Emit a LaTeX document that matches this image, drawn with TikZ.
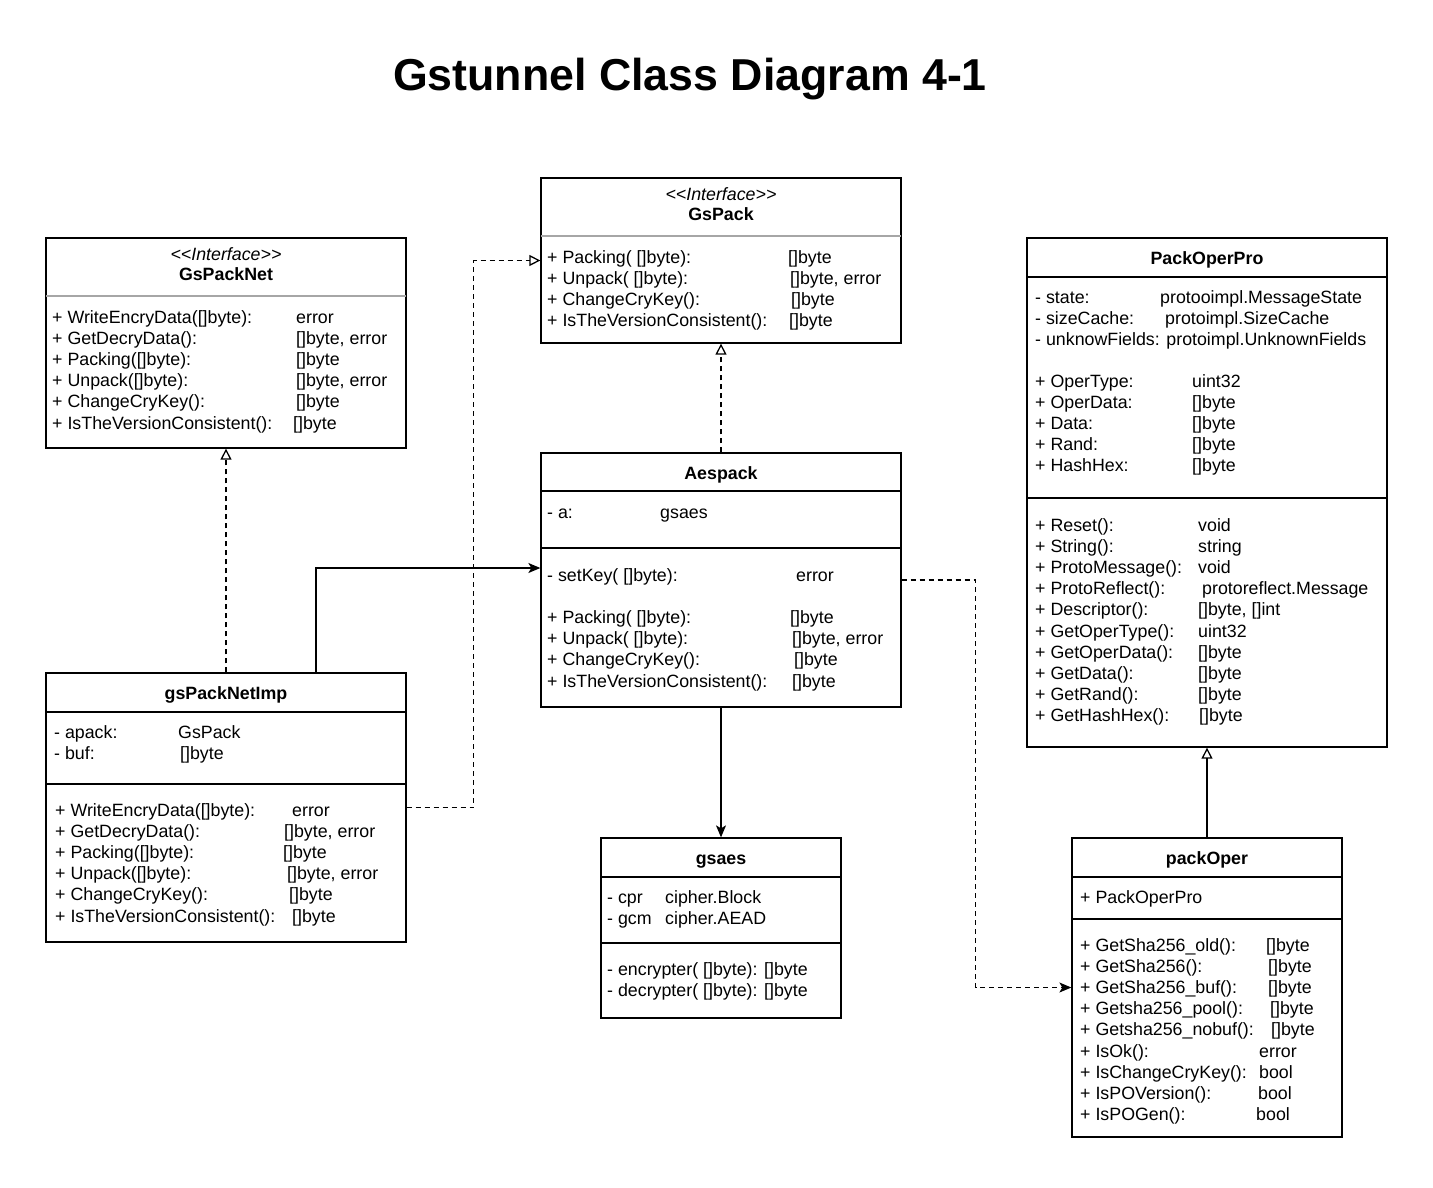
\documentclass[tikz,border=0pt]{standalone}
\usepackage{fontspec}
\setmainfont{Liberation Sans}
\usetikzlibrary{arrows.meta,positioning}

\tikzset{
  umlbox/.style={draw, line width=1.3pt, inner sep=0pt},
  cname/.style={anchor=base, inner sep=0pt, font=\fontsize{17.8}{21.2}\selectfont\bfseries},
  stereo/.style={anchor=base, inner sep=0pt, font=\fontsize{17.8}{21.2}\selectfont\itshape},
  members/.style={anchor=base west, inner sep=0pt, font=\fontsize{17.8}{21.2}\selectfont},
  sepline/.style={line width=1.3pt},
  isep/.style={line width=1.3pt, black!35},
  realize/.style={line width=1.3pt, dash pattern=on 5pt off 4pt, -{Triangle[open, length=11pt, width=11pt]}},
  inherit/.style={line width=1.3pt, -{Triangle[open, length=11pt, width=11pt]}},
  assoc/.style={line width=1.3pt, -{Stealth[length=12pt, width=10pt, inset=3pt]}},
  dep/.style={line width=1.3pt, dash pattern=on 5pt off 4pt, -{Stealth[length=12pt, width=10pt, inset=3pt]}}
}

\begin{document}
\begin{tikzpicture}[x=1pt, y=-1pt]
  \useasboundingbox (0,0) rectangle (1433,1187);
  % title
  \node[anchor=base, inner sep=0pt, font=\fontsize{44.7}{50}\selectfont\bfseries] (title) at (690,90) {Gstunnel Class Diagram 4-1};

  % GsPackNet
  \node[umlbox, minimum width=360pt, minimum height=210pt] (gspacknet) at (226,343) {};
  \node[stereo] (gspacknet-st) at (226,260) {{<}{<}Interface{>}{>}};
  \node[cname] (gspacknet-name) at (226,280) {GsPackNet};
  \draw[isep] (46,296) -- (406,296);
  \node[members] (gspacknet-ops) at (52,323) {\begin{tabular}[t]{@{}p{244pt}@{}l@{}}
    + WriteEncryData([]byte): & error \\
    + GetDecryData(): & []byte, error \\
    + Packing([]byte): & []byte \\
    + Unpack([]byte): & []byte, error \\
    + ChangeCryKey(): & []byte \\
    + IsTheVersionConsistent(): & \hspace*{-3pt}[]byte
  \end{tabular}};

  % GsPack
  \node[umlbox, minimum width=360pt, minimum height=165pt] (gspack) at (721,260.5) {};
  \node[stereo] (gspack-st) at (721,200) {{<}{<}Interface{>}{>}};
  \node[cname] (gspack-name) at (721,220) {GsPack};
  \draw[isep] (541,236) -- (901,236);
  \node[members] (gspack-ops) at (547,263) {\begin{tabular}[t]{@{}p{241pt}@{}l@{}}
    + Packing( []byte): & []byte \\
    + Unpack( []byte): & \hspace*{2pt}[]byte, error \\
    + ChangeCryKey(): & \hspace*{3pt}[]byte \\
    + IsTheVersionConsistent(): & \hspace*{1pt}[]byte
  \end{tabular}};

  % PackOperPro
  \node[umlbox, minimum width=360pt, minimum height=509pt] (packoperpro) at (1207,492.5) {};
  \node[cname] (packoperpro-name) at (1207,264) {PackOperPro};
  \draw[sepline] (1027,277) -- (1387,277);
  \node[members] (packoperpro-priv) at (1035,303) {\begin{tabular}[t]{@{}p{125pt}@{}l@{}}
    - state: & protooimpl.MessageState \\
    - sizeCache: & \hspace*{5pt}protoimpl.SizeCache \\
    \multicolumn{2}{@{}l@{}}{- unknowFields: protoimpl.UnknownFields}
  \end{tabular}};
  \node[members] (packoperpro-pub) at (1035,387) {\begin{tabular}[t]{@{}p{157pt}@{}l@{}}
    + OperType: & uint32 \\
    + OperData: & []byte \\
    + Data: & []byte \\
    + Rand: & []byte \\
    + HashHex: & []byte
  \end{tabular}};
  \draw[sepline] (1027,498) -- (1387,498);
  \node[members] (packoperpro-ops) at (1035,531) {\begin{tabular}[t]{@{}p{163pt}@{}l@{}}
    + Reset(): & void \\
    + String(): & string \\
    + ProtoMessage(): & void \\
    + ProtoReflect(): & \hspace*{4pt}protoreflect.Message \\
    + Descriptor(): & []byte, []int \\
    + GetOperType(): & uint32 \\
    + GetOperData(): & []byte \\
    + GetData(): & []byte \\
    + GetRand(): & []byte \\
    + GetHashHex(): & \hspace*{1pt}[]byte
  \end{tabular}};

  % Aespack
  \node[umlbox, minimum width=360pt, minimum height=254pt] (aespack) at (721,580) {};
  \node[cname] (aespack-name) at (721,479) {Aespack};
  \draw[sepline] (541,491) -- (901,491);
  \node[members] (aespack-attr) at (547,518) {\begin{tabular}[t]{@{}p{113pt}@{}l@{}}
    - a: & gsaes
  \end{tabular}};
  \draw[sepline] (541,548) -- (901,548);
  \node[members] (aespack-ops) at (547,581) {\begin{tabular}[t]{@{}p{243pt}@{}l@{}}
    - setKey( []byte): & \hspace*{6pt}error \\
    & \\
    + Packing( []byte): & []byte \\
    + Unpack( []byte): & \hspace*{2pt}[]byte, error \\
    + ChangeCryKey(): & \hspace*{4pt}[]byte \\
    + IsTheVersionConsistent(): & \hspace*{2pt}[]byte
  \end{tabular}};

  % gsPackNetImp
  \node[umlbox, minimum width=360pt, minimum height=269pt] (gspacknetimp) at (226,807.5) {};
  \node[cname] (gspacknetimp-name) at (226,699) {gsPackNetImp};
  \draw[sepline] (46,712) -- (406,712);
  \node[members] (gspacknetimp-attr) at (54,738) {\begin{tabular}[t]{@{}p{124pt}@{}l@{}}
    - apack: & GsPack \\
    - buf: & \hspace*{2pt}[]byte
  \end{tabular}};
  \draw[sepline] (46,784) -- (406,784);
  \node[members] (gspacknetimp-ops) at (55,816) {\begin{tabular}[t]{@{}p{229pt}@{}l@{}}
    + WriteEncryData([]byte): & \hspace*{8pt}error \\
    + GetDecryData(): & []byte, error \\
    + Packing([]byte): & \hspace*{-1pt}[]byte \\
    + Unpack([]byte): & \hspace*{3pt}[]byte, error \\
    + ChangeCryKey(): & \hspace*{5pt}[]byte \\
    + IsTheVersionConsistent(): & \hspace*{8pt}[]byte
  \end{tabular}};

  % gsaes
  \node[umlbox, minimum width=240pt, minimum height=180pt] (gsaes) at (721,928) {};
  \node[cname] (gsaes-name) at (721,864) {gsaes};
  \draw[sepline] (601,877) -- (841,877);
  \node[members] (gsaes-attr) at (607,903) {\begin{tabular}[t]{@{}p{58pt}@{}l@{}}
    - cpr & cipher.Block \\
    - gcm & cipher.AEAD
  \end{tabular}};
  \draw[sepline] (601,943) -- (841,943);
  \node[members] (gsaes-ops) at (607,975) {\begin{tabular}[t]{@{}l@{}}
    - encrypter( []byte): []byte \\
    - decrypter( []byte): []byte
  \end{tabular}};

  % packOper
  \node[umlbox, minimum width=270pt, minimum height=299pt] (packoper) at (1207,987.5) {};
  \node[cname] (packoper-name) at (1207,864) {packOper};
  \draw[sepline] (1072,877) -- (1342,877);
  \node[members] (packoper-attr) at (1080,903) {+ PackOperPro};
  \draw[sepline] (1072,919) -- (1342,919);
  \node[members] (packoper-ops) at (1080,951) {\begin{tabular}[t]{@{}p{186pt}@{}l@{}}
    + GetSha256\_old(): & []byte \\
    + GetSha256(): & \hspace*{2pt}[]byte \\
    + GetSha256\_buf(): & \hspace*{2pt}[]byte \\
    + Getsha256\_pool(): & \hspace*{4pt}[]byte \\
    + Getsha256\_nobuf(): & \hspace*{5pt}[]byte \\
    + IsOk(): & \hspace*{-7pt}error \\
    + IsChangeCryKey(): & \hspace*{-7pt}bool \\
    + IsPOVersion(): & \hspace*{-8pt}bool \\
    + IsPOGen(): & \hspace*{-10pt}bool
  \end{tabular}};

  % relations
  \draw[realize] (gspacknetimp.north) -- (gspacknet.south);
  \draw[assoc] ([xshift=90pt]gspacknetimp.north) |- ([yshift=12pt]aespack.west);
  \draw[realize] (gspacknetimp.east) -- ++(67,0) |- (gspack.west);
  \draw[realize] (aespack.north) -- (gspack.south);
  \draw[assoc] (aespack.south) -- (gsaes.north);
  \draw[dep] (aespack.east) -- ++(74,0) |- (packoper.west);
  \draw[inherit] (packoper.north) -- (packoperpro.south);
\end{tikzpicture}
\end{document}
